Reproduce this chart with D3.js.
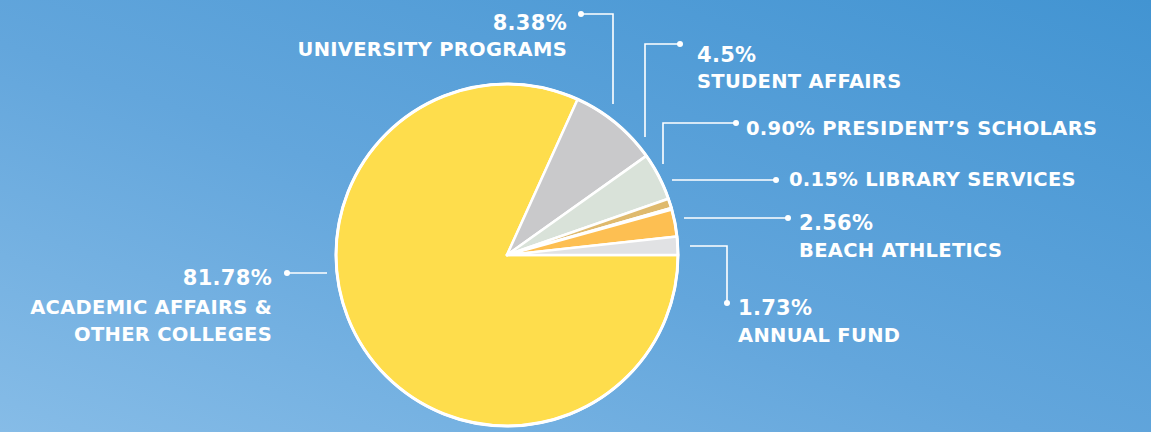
<!DOCTYPE html>
<html><head><meta charset="utf-8">
<script src="https://cdn.jsdelivr.net/npm/d3@7/dist/d3.min.js"></script>
<style>html,body{margin:0;padding:0;overflow:hidden;}svg{display:block;}</style>
</head><body>
<svg id="chart" width="1151" height="432"></svg>
<script>
const categories = ["ACADEMIC AFFAIRS & OTHER COLLEGES","UNIVERSITY PROGRAMS","STUDENT AFFAIRS","PRESIDENT’S SCHOLARS","LIBRARY SERVICES","BEACH ATHLETICS","ANNUAL FUND"];
const values = [81.78, 8.38, 4.5, 0.90, 0.15, 2.56, 1.73];
const valueLabels = ["81.78%","8.38%","4.5%","0.90%","0.15%","2.56%","1.73%"];
const colors = ["#fedd4c","#c9c9cb","#d9e2d9","#dfba6e","#d9e2d9","#fdbf52","#e1e2e4"];

const svg = d3.select("#chart");
const W = 1151, H = 432;
const defs = svg.append("defs");
const grad = defs.append("linearGradient").attr("id","bg").attr("x1","100%").attr("y1","0%").attr("x2","0%").attr("y2","100%");
grad.append("stop").attr("offset","0%").attr("stop-color","#4294d2");
grad.append("stop").attr("offset","55%").attr("stop-color","#63a6dc");
grad.append("stop").attr("offset","100%").attr("stop-color","#86bce7");
svg.append("rect").attr("width",W).attr("height",H).attr("fill","url(#bg)");

const cx = 507, cy = 255, R = 171;
const pie = d3.pie().sort(null).value(d => d).startAngle(Math.PI/2).endAngle(Math.PI/2 + 2*Math.PI);
const arcs = pie(values);
const arc = d3.arc().innerRadius(0).outerRadius(R);
const g = svg.append("g").attr("transform",`translate(${cx},${cy})`);
g.append("circle").attr("r",R+1).attr("fill","#fff");
g.selectAll("path").data(arcs).join("path")
  .attr("d",arc).attr("fill",(d,i)=>colors[i])
  .attr("stroke","#fff").attr("stroke-width",2.5).attr("stroke-linejoin","round");
g.append("circle").attr("r",R).attr("fill","none").attr("stroke","#fff").attr("stroke-width",3);

// annotations: leader polyline points, dot at end, text lines [baseline, text, size]
const ann = [
  {i:0, pts:[[327,273],[287,273]], anchor:"end", tx:272, lines:[[285,valueLabels[0],21],[314,"ACADEMIC AFFAIRS &",19.5],[341,"OTHER COLLEGES",19.5]]},
  {i:1, pts:[[613,104],[613,14],[581,14]], anchor:"end", tx:567, lines:[[30,valueLabels[1],21],[56,categories[1],19.5]]},
  {i:2, pts:[[645,137],[645,44],[680,44]], anchor:"start", tx:697, lines:[[62,valueLabels[2],21],[88,categories[2],19.5]]},
  {i:3, pts:[[663,164],[663,123],[736,123]], anchor:"start", tx:746, lines:[[135,valueLabels[3]+" "+categories[3],19.5]]},
  {i:4, pts:[[672,180],[776,180]], anchor:"start", tx:789, lines:[[186,valueLabels[4]+" "+categories[4],19.5]]},
  {i:5, pts:[[684,218],[788,218]], anchor:"start", tx:799, lines:[[230,valueLabels[5],21],[257,categories[5],19.5]]},
  {i:6, pts:[[690,246],[727,246],[727,303]], anchor:"start", tx:738, lines:[[315,valueLabels[6],21],[342,categories[6],19.5]]}
];
const line = d3.line();
ann.forEach(a => {
  svg.append("path").attr("d",line(a.pts)).attr("fill","none").attr("stroke","#fff").attr("stroke-width",1.6);
  const end = a.pts[a.pts.length-1];
  svg.append("circle").attr("cx",end[0]).attr("cy",end[1]).attr("r",3).attr("fill","#fff");
  a.lines.forEach(([y,t,fs]) => {
    svg.append("text").attr("x",a.tx).attr("y",y).attr("text-anchor",a.anchor)
      .attr("fill","#fff").attr("font-family","'DejaVu Sans', sans-serif").attr("font-weight","bold")
      .attr("font-size",fs).attr("letter-spacing",0.3).text(t);
  });
});
</script>
</body></html>
